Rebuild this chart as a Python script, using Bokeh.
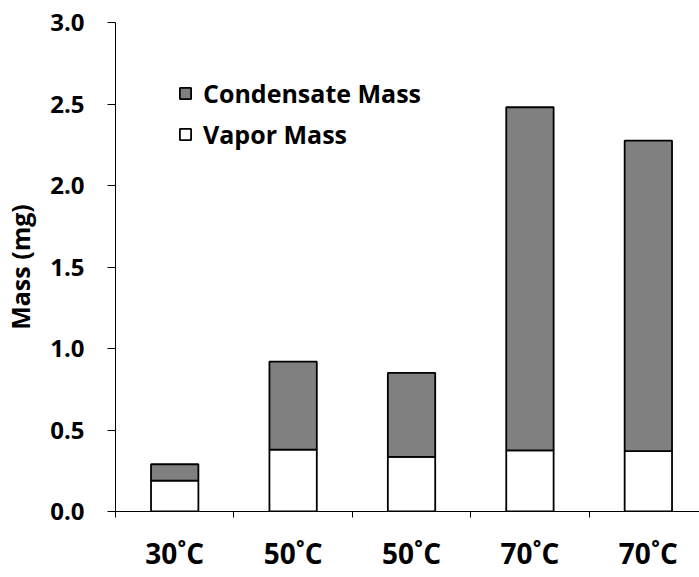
import numpy as np
from bokeh.plotting import figure
from bokeh.models import (Range1d, FixedTicker, Legend, LegendItem,
                          ColumnDataSource, PrintfTickFormatter)
from bokeh.embed import file_html
from bokeh.resources import INLINE

# ---- data ----
categories = ["30˚C", "50˚C", "50˚C", "70˚C", "70˚C"]
vapor_mass = [0.19, 0.38, 0.335, 0.375, 0.37]
condensate_mass = [0.10, 0.54, 0.515, 2.105, 1.905]
y_ticks = [0.0, 0.5, 1.0, 1.5, 2.0, 2.5, 3.0]

xpos = np.arange(len(categories))
vap = np.array(vapor_mass)
total = vap + np.array(condensate_mass)
src = ColumnDataSource(dict(x=xpos, vap=vap, total=total,
                            zero=np.zeros(len(xpos))))

FONT = "Open Sans"

p = figure(width=699, height=577,
           x_range=Range1d(-0.5, 4.432), y_range=Range1d(0, 3),
           output_backend="svg", toolbar_location=None,
           min_border_left=115, min_border_top=22,
           min_border_bottom=66, min_border_right=0)
p.xgrid.visible = False
p.ygrid.visible = False
p.outline_line_color = None
p.background_fill_color = "white"
p.border_fill_color = "white"

r_vap = p.vbar(x="x", bottom="zero", top="vap", width=0.4, source=src,
               fill_color="white", line_color="black", line_width=1.8)
r_con = p.vbar(x="x", bottom="vap", top="total", width=0.4, source=src,
               fill_color="#808080", line_color="black", line_width=1.8)

# x axis
xa = p.xaxis[0]
xa.ticker = FixedTicker(ticks=list(xpos),
                        minor_ticks=[-0.5, 0.5, 1.5, 2.5, 3.5, 4.5])
xa.major_label_overrides = {int(i): c for i, c in zip(xpos, categories)}
xa.major_tick_line_color = None
xa.major_tick_out = 6
xa.major_tick_in = 0
xa.minor_tick_out = 6
xa.minor_tick_in = 0
xa.minor_tick_line_color = "black"
xa.axis_line_color = "black"
xa.major_label_text_font = FONT
xa.major_label_text_font_style = "bold"
xa.major_label_text_font_size = "28px"
xa.major_label_text_color = "black"
xa.major_label_standoff = 16

# y axis
ya = p.yaxis[0]
ya.ticker = FixedTicker(ticks=y_ticks)
ya.formatter = PrintfTickFormatter(format="%.1f")
ya.minor_tick_line_color = None
ya.major_tick_out = 8
ya.major_tick_in = 0
ya.axis_line_color = "black"
ya.major_tick_line_color = "black"
ya.major_label_text_font = FONT
ya.major_label_text_font_style = "bold"
ya.major_label_text_font_size = "24px"
ya.major_label_text_color = "black"
ya.major_label_standoff = 23
ya.axis_label = "Mass (mg)"
ya.axis_label_text_font = FONT
ya.axis_label_text_font_style = "bold"
ya.axis_label_text_font_size = "25px"
ya.axis_label_text_color = "black"
ya.axis_label_standoff = 10

legend = Legend(items=[LegendItem(label="Condensate Mass", renderers=[r_con]),
                       LegendItem(label="Vapor Mass", renderers=[r_vap])],
                location=(63, 360))
legend.glyph_width = 14
legend.glyph_height = 14
legend.label_standoff = 11
legend.label_text_font = FONT
legend.label_text_font_style = "bold"
legend.label_text_font_size = "25px"
legend.label_text_color = "black"
legend.padding = 0
legend.margin = 0
legend.spacing = 7
legend.border_line_color = None
legend.background_fill_alpha = 0
p.add_layout(legend)

open("out.html", "w").write(file_html(p, INLINE))
